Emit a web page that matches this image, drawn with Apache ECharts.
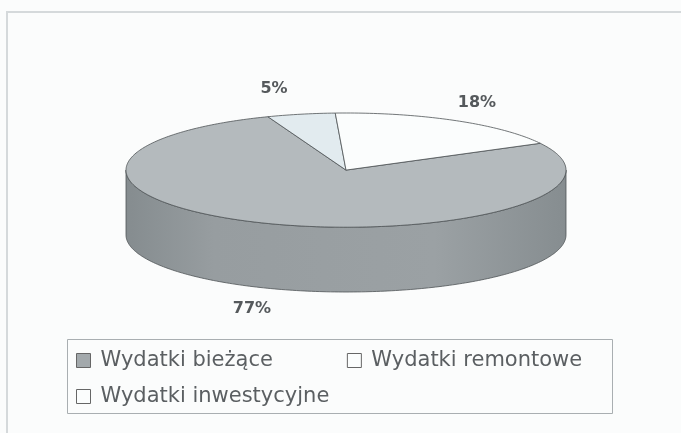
<!DOCTYPE html>
<html>
<head>
<meta charset="utf-8">
<script src="https://cdn.jsdelivr.net/npm/echarts@6/dist/echarts.min.js"></script>
<style>
  html, body { margin: 0; padding: 0; background: #fbfcfc; }
  #chart { width: 681px; height: 433px; }
</style>
</head>
<body>
<div id="chart"></div>
<script>
// dane z wykresu
const categories = ['Wydatki bieżące', 'Wydatki remontowe', 'Wydatki inwestycyjne']
const values = [77, 5, 18]
const sliceColors = ['#b4babd', '#e2ebef', '#fbfdfd']
const legendColors = ['#a3a9ac', '#fbfdfd', '#fbfdfd']

// geometria "3D" – proporcje elipsy i grubość placka (w jednostkach osi)
const TILT = 0.26
const DEPTH = 0.295
const START = 28 // kąt początku pierwszego wycinka (stopnie, od godz. 3)

const total = values.reduce((a, b) => a + b, 0)
let cum = 0
const slices = values.map(v => {
  const a0 = START - cum / total * 360
  cum += v
  const a1 = START - cum / total * 360
  return [a0, a1, v]
})

const rad = a => a * Math.PI / 180

function arc (api, from, to, dy) {
  const pts = []
  const n = Math.max(2, Math.ceil(Math.abs(from - to)))
  for (let i = 0; i <= n; i++) {
    const a = rad(from + (to - from) * i / n)
    pts.push(api.coord([Math.cos(a), TILT * Math.sin(a) - dy]))
  }
  return pts
}

const sideFill = new echarts.graphic.LinearGradient(0, 0, 1, 0, [
  { offset: 0, color: '#858c8f' },
  { offset: 0.2, color: '#979da0' },
  { offset: 0.7, color: '#9ba1a4' },
  { offset: 1, color: '#868d90' }
])

function renderSlice (idx) {
  return function (params, api) {
    const a0 = api.value(0)
    const a1 = api.value(1)
    const children = []
    // ściana boczna – tylko przednia połowa (kąty -180..0)
    ;[0, -360].forEach(k => {
      const hi = Math.min(a0, k)
      const lo = Math.max(a1, k - 180)
      if (lo < hi) {
        const top = arc(api, hi, lo, 0)
        const bottom = arc(api, lo, hi, DEPTH)
        children.push({
          type: 'polygon',
          shape: { points: top.concat(bottom) },
          style: { fill: sideFill, stroke: '#4f5457', lineWidth: 0.8 }
        })
      }
    })
    // górna powierzchnia
    const c = api.coord([0, 0])
    children.push({
      type: 'polygon',
      z2: 10,
      shape: { points: [c].concat(arc(api, a0, a1, 0)) },
      style: { fill: sliceColors[idx], stroke: '#4f5457', lineWidth: 0.8 }
    })
    return { type: 'group', children: children }
  }
}

const chart = echarts.init(document.getElementById('chart'), null, { renderer: 'canvas' })

const option = {
  backgroundColor: '#fbfcfc',
  animation: false,
  grid: { left: 126, top: 113, width: 440, height: 179 },
  xAxis: { type: 'value', min: -1, max: 1, show: false },
  yAxis: { type: 'value', min: -TILT - DEPTH, max: TILT, show: false },
  legend: {
    left: 76,
    top: 348,
    width: 530,
    padding: 0,
    itemGap: 11,
    itemWidth: 14,
    itemHeight: 14,
    icon: 'rect',
    itemStyle: { borderColor: '#666', borderWidth: 1 },
    textStyle: {
      fontFamily: 'DejaVu Sans',
      fontSize: 21,
      lineHeight: 25,
      color: '#5b5f62',
      padding: [0, 0, 0, 5]
    },
    data: categories.map((name, i) => ({
      name: name,
      itemStyle: { color: legendColors[i], borderColor: '#666', borderWidth: 1 },
      textStyle: i === 0 ? { padding: [0, 63, 0, 5] } : {}
    }))
  },
  graphic: [
    {
      type: 'rect',
      silent: true,
      shape: { x: 7, y: 12, width: 700, height: 450 },
      style: { fill: null, stroke: '#d5d9db', lineWidth: 2 }
    },
    {
      type: 'rect',
      silent: true,
      shape: { x: 67.5, y: 339.5, width: 545, height: 74 },
      style: { fill: null, stroke: '#a9aeb1', lineWidth: 1 }
    }
  ].concat([[274, 89], [477, 103], [252, 309]].map((p, i) => ({
    type: 'text',
    silent: true,
    style: {
      x: p[0],
      y: p[1],
      text: Math.round(values[[1, 2, 0][i]] / total * 100) + '%',
      align: 'center',
      verticalAlign: 'middle',
      font: 'bold 16px "DejaVu Sans"',
      fill: '#55595c'
    }
  }))),
  series: categories.map((name, i) => ({
    name: name,
    type: 'custom',
    silent: true,
    itemStyle: { color: legendColors[i] },
    renderItem: renderSlice(i),
    data: [slices[i]]
  }))
}

chart.setOption(option)
</script>
</body>
</html>
